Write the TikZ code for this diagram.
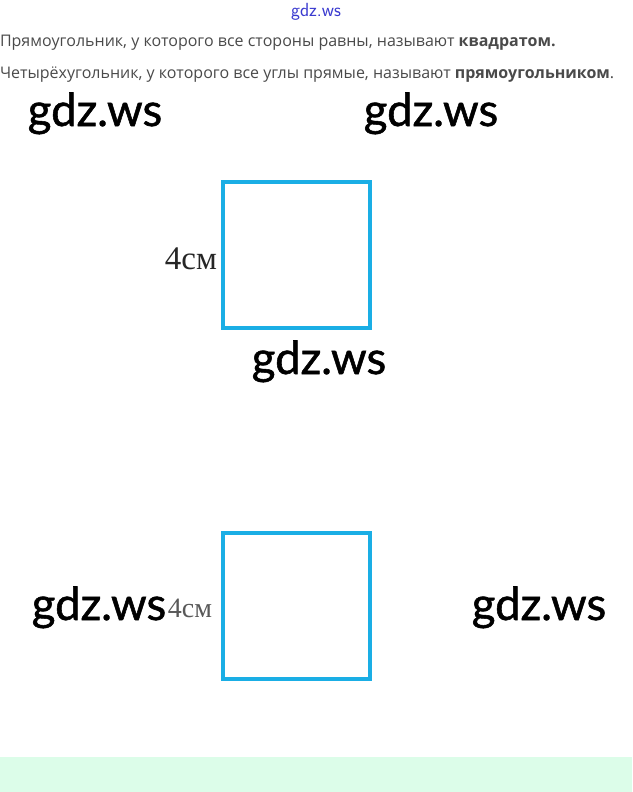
\documentclass[tikz,border=0pt]{standalone}
\usepackage{fontspec}
\setmainfont{Liberation Serif}
\newfontfamily\rulefont{Open Sans}
\newfontfamily\markfont[FakeBold=1.2]{Lato}
\usetikzlibrary{positioning}
\definecolor{sqblue}{HTML}{1AAEE5}
\definecolor{bandgreen}{HTML}{DCFDE9}
\definecolor{textgray}{HTML}{4A4A4A}
\definecolor{markblue}{HTML}{3A3ACF}
\begin{document}
\begin{tikzpicture}[
                x=1pt, y=-1pt,
                every node/.style={inner sep=0pt, outer sep=0pt},
                wmark/.style={font=\markfont\fontsize{45.5}{45.5}\selectfont, anchor=base},
                rule/.style={font=\rulefont\fontsize{16}{16}\selectfont, text=textgray, anchor=base west},
                sq/.style={draw=sqblue, line width=4pt, minimum width=147pt, minimum height=146pt},
                side/.style={anchor=base east},
            ]
            \useasboundingbox (0,0) rectangle (632,792);
            \fill[bandgreen] (0,757) rectangle (632,792);
            \node[font=\sffamily\fontsize{19}{19}\selectfont, text=markblue, anchor=base] (top) at (316,17) {gdz.ws};
            \node[rule] (square) at (0,47) {Прямоугольник, у которого все стороны равны, называют \textbf{квадратом.}};
            \node[rule] (rect) at (0,78) {Четырёхугольник, у которого все углы прямые, называют \textbf{прямоугольником}.};
            % squares
            \node[sq] (sqa) at (296.5,255) {};
            \node[sq] (sqb) at (296.5,605.5) {};
            \node[side, font=\fontsize{33}{33}\selectfont, text=black!85] (sidea) at ([xshift=-6pt, yshift=-14pt]sqa.west) {4см};
            \node[side, font=\fontsize{28}{28}\selectfont, text=black!65] (sideb) at ([xshift=-11pt, yshift=-11.5pt]sqb.west) {4см};
            % watermarks
            \node[wmark] (marka) at (95,126) {gdz.ws};
            \node[wmark] (markb) at (431,126) {gdz.ws};
            \node[wmark] (markc) at (319,374) {gdz.ws};
            \node[wmark] (markd) at (99,620) {gdz.ws};
            \node[wmark] (marke) at (539,620) {gdz.ws};
            \end{tikzpicture}
\end{document}
